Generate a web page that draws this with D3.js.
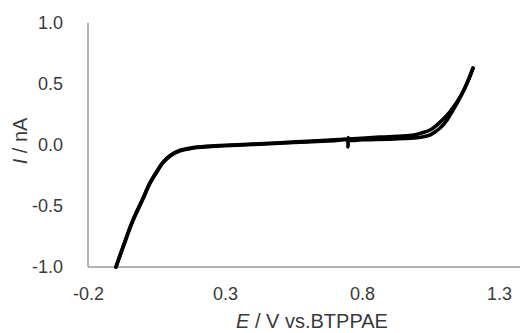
<!DOCTYPE html>
<html><head><meta charset="utf-8">
<script src="https://cdn.jsdelivr.net/npm/d3@7"></script>
<style>
html,body{margin:0;padding:0;background:#fff;}
svg{display:block;font-family:"Liberation Sans",Arial,sans-serif;}
</style></head>
<body>
<script>
// Tick labels
const xTicks = [-0.2, 0.3, 0.8, 1.3];
const yTicks = [-1.0, -0.5, 0.0, 0.5, 1.0];

// Forward scan (E in V, I in nA)
const fwdE = [-0.098, -0.07, -0.036, 0.0, 0.026, 0.05, 0.074, 0.1, 0.136, 0.17, 0.198, 0.25, 0.3, 0.4, 0.5, 0.6, 0.7, 0.8, 0.87, 0.93, 0.99, 1.02, 1.05, 1.085, 1.12, 1.16, 1.19, 1.205];
const fwdI = [-1.0, -0.82, -0.615, -0.44, -0.31, -0.22, -0.14, -0.085, -0.043, -0.026, -0.017, -0.009, -0.002, 0.008, 0.018, 0.03, 0.042, 0.055, 0.065, 0.072, 0.082, 0.1, 0.125, 0.188, 0.27, 0.40, 0.54, 0.63];

// Reverse scan
const revE = [1.205, 1.183, 1.165, 1.147, 1.128, 1.11, 1.085, 1.065, 1.048, 1.02, 0.99, 0.95, 0.9, 0.85, 0.8, 0.752, 0.749, 0.749, 0.746, 0.7, 0.6, 0.5, 0.4, 0.3, 0.25, 0.198, 0.17, 0.136, 0.1, 0.074, 0.05, 0.026, 0.0, -0.036, -0.07, -0.098];
const revI = [0.63, 0.507, 0.42, 0.343, 0.27, 0.204, 0.139, 0.105, 0.082, 0.066, 0.058, 0.053, 0.048, 0.045, 0.043, 0.04, 0.06, -0.015, 0.039, 0.036, 0.026, 0.014, 0.004, -0.006, -0.012, -0.02, -0.03, -0.048, -0.09, -0.145, -0.225, -0.315, -0.445, -0.62, -0.825, -1.0];

const W = 520, H = 333;
const svg = d3.select("body").append("svg").attr("width", W).attr("height", H);

const x = d3.scaleLinear().domain([-0.2, 1.3]).range([88, 499]);
const y = d3.scaleLinear().domain([-1.0, 1.0]).range([267, 23]);

const axisCol = "#9a9a9a", textCol = "#3a3a3a";
const fmt = d => d3.format(".1f")(d).replace("\u2212", "-");

// Axes lines
svg.append("line").attr("x1", x(-0.2)).attr("x2", x(-0.2)).attr("y1", y(1.0)).attr("y2", y(-1.0))
  .attr("stroke", axisCol).attr("stroke-width", 1.5);
svg.append("line").attr("x1", x(-0.2)).attr("x2", 520).attr("y1", y(-1.0)).attr("y2", y(-1.0))
  .attr("stroke", axisCol).attr("stroke-width", 1.5);

const yAxis = svg.append("g").attr("transform", `translate(${x(-0.2)},0)`)
  .call(d3.axisLeft(y).tickValues(yTicks).tickFormat(fmt).tickSize(0).tickPadding(25));
yAxis.select(".domain").remove();
yAxis.selectAll("text").attr("fill", textCol).style("font-size", "18px").style("font-family", "Liberation Sans, Arial, sans-serif");

const xAxis = svg.append("g").attr("transform", `translate(0,${y(-1.0)})`)
  .call(d3.axisBottom(x).tickValues(xTicks).tickFormat(fmt).tickSize(0).tickPadding(20));
xAxis.select(".domain").remove();
xAxis.selectAll("text").attr("fill", textCol).style("font-size", "18px").style("font-family", "Liberation Sans, Arial, sans-serif");

// Curves
const line = d3.line().x(d => x(d[0])).y(d => y(d[1])).curve(d3.curveCatmullRom.alpha(0.5));
const fwd = fwdE.map((e, i) => [e, fwdI[i]]);
const rev = revE.map((e, i) => [e, revI[i]]);
[fwd, rev].forEach(d => {
  svg.append("path").attr("d", line(d)).attr("fill", "none").attr("stroke", "#000")
    .attr("stroke-width", 3.6).attr("stroke-linejoin", "round").attr("stroke-linecap", "round");
});

// Axis titles
const yl = svg.append("text").attr("transform", "translate(27,141) rotate(-90)")
  .attr("text-anchor", "middle").attr("fill", textCol).style("font-size", "20px");
yl.append("tspan").attr("font-style", "italic").text("I");
yl.append("tspan").text(" / nA");

const xl = svg.append("text").attr("x", 312).attr("y", 328)
  .attr("text-anchor", "middle").attr("fill", textCol).style("font-size", "20px");
xl.append("tspan").attr("font-style", "italic").text("E");
xl.append("tspan").text(" / V vs.BTPPAE");
</script>
</body></html>
